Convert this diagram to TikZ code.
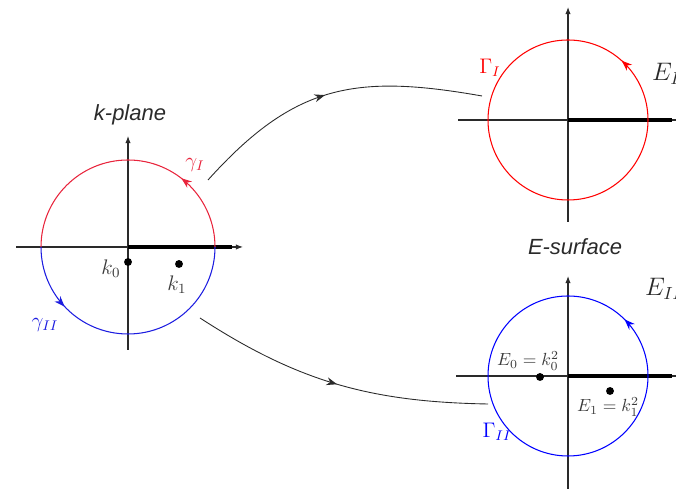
\documentclass[tikz,border=0pt]{standalone}
\usepackage{amsmath}
\usepackage{fontspec}
\usetikzlibrary{arrows.meta,decorations.markings}
\newfontfamily\labelfont{Liberation Sans}
\definecolor{contourred}{HTML}{E8243C}
\definecolor{contourblue}{HTML}{1C1CE0}
\definecolor{mapink}{HTML}{2A2A2A}
\definecolor{labelgray}{HTML}{3A3A3A}

\tikzset{
  axis/.style={mapink, line width=0.6pt, -{Latex[length=4pt,width=3pt]}},
  cut/.style={black, line width=1.8pt},
  contour/.style={line width=0.6pt},
  midarrow/.style={postaction={decorate, decoration={markings,
    mark=at position #1 with {\arrow{Stealth[length=6pt,width=4.5pt]}}}}},
  ptdot/.style={circle, fill=black, inner sep=0pt, minimum size=4.5pt},
  planelabel/.style={font=\labelfont\itshape\fontsize{12.5}{15}\selectfont, mapink}
}

\begin{document}
\begin{tikzpicture}[
  x=0.02cm,
  y=0.02cm,
  every node/.style={font=\normalsize}
]
  \useasboundingbox (0,0) rectangle (676,489);

  % k-plane
  \draw[axis] (16,242) -- (243,242);
  \draw[axis] (128,139) -- (128,353);
  \draw[cut] (128,242) -- (232,242);
  \draw[contourred, contour, midarrow=0.29] (215,242) arc[start angle=0, end angle=180, radius=87];
  \draw[contourblue, contour, midarrow=0.24] (41,242) arc[start angle=180, end angle=360, radius=87];

  \node[planelabel] (kplane) at (130,374) {k-plane};
  \node[contourred, font=\large] (gammaI) at (195,324) {$\gamma_I$};
  \node[contourblue, font=\large] (gammaII) at (45,164) {$\gamma_{II}$};
  \node[ptdot] (k0) at (128,227) {};
  \node[labelgray, font=\large] (k0lab) at (111,220) {$k_0$};
  \node[ptdot] (k1) at (179,225) {};
  \node[labelgray, font=\large] (k1lab) at (177,204) {$k_1$};

  % E-plane, sheet I
  \draw[axis] (458,369) -- (690,369);
  \draw[axis] (568,267) -- (568,482);
  \draw[cut] (568,369) -- (672,369);
  \draw[red, contour, midarrow=0.133] (648,369) arc[start angle=0, end angle=360, radius=80];

  \node[red, font=\large] (GammaI) at (490,421) {$\Gamma_I$};
  \node[mapink, font=\Large, anchor=west] (EI) at (646,415) {$E_I$};

  % E-plane, sheet II
  \draw[axis] (456,113) -- (690,113);
  \draw[axis] (568,0) -- (568,213);
  \draw[cut] (568,113) -- (672,113);
  \draw[blue, contour, midarrow=0.125] (648,113) arc[start angle=0, end angle=360, radius=80];

  \node[planelabel] (esurf) at (575,242) {E-surface};
  \node[mapink, font=\Large, anchor=west] (EII) at (639,200) {$E_{II}$};
  \node[blue, font=\large] (GammaII) at (497,57) {$\Gamma_{II}$};
  \node[ptdot] (E0) at (540,112) {};
  \node[labelgray] (E0lab) at (528,128) {$E_0=k_0^2$};
  \node[ptdot] (E1) at (610,98) {};
  \node[labelgray] (E1lab) at (608,82) {$E_1=k_1^2$};

  % maps
  \coordinate (upstart) at (208,309);
  \coordinate (upend) at (482,393);
  \coordinate (lowstart) at (200,171);
  \coordinate (lowend) at (488,85);
  \draw[mapink, line width=0.5pt, midarrow=0.48] (upstart) to[out=48, in=170, looseness=1.15] (upend);
  \draw[mapink, line width=0.5pt, midarrow=0.5] (lowstart) to[out=-33, in=179] (lowend);
\end{tikzpicture}
\end{document}
